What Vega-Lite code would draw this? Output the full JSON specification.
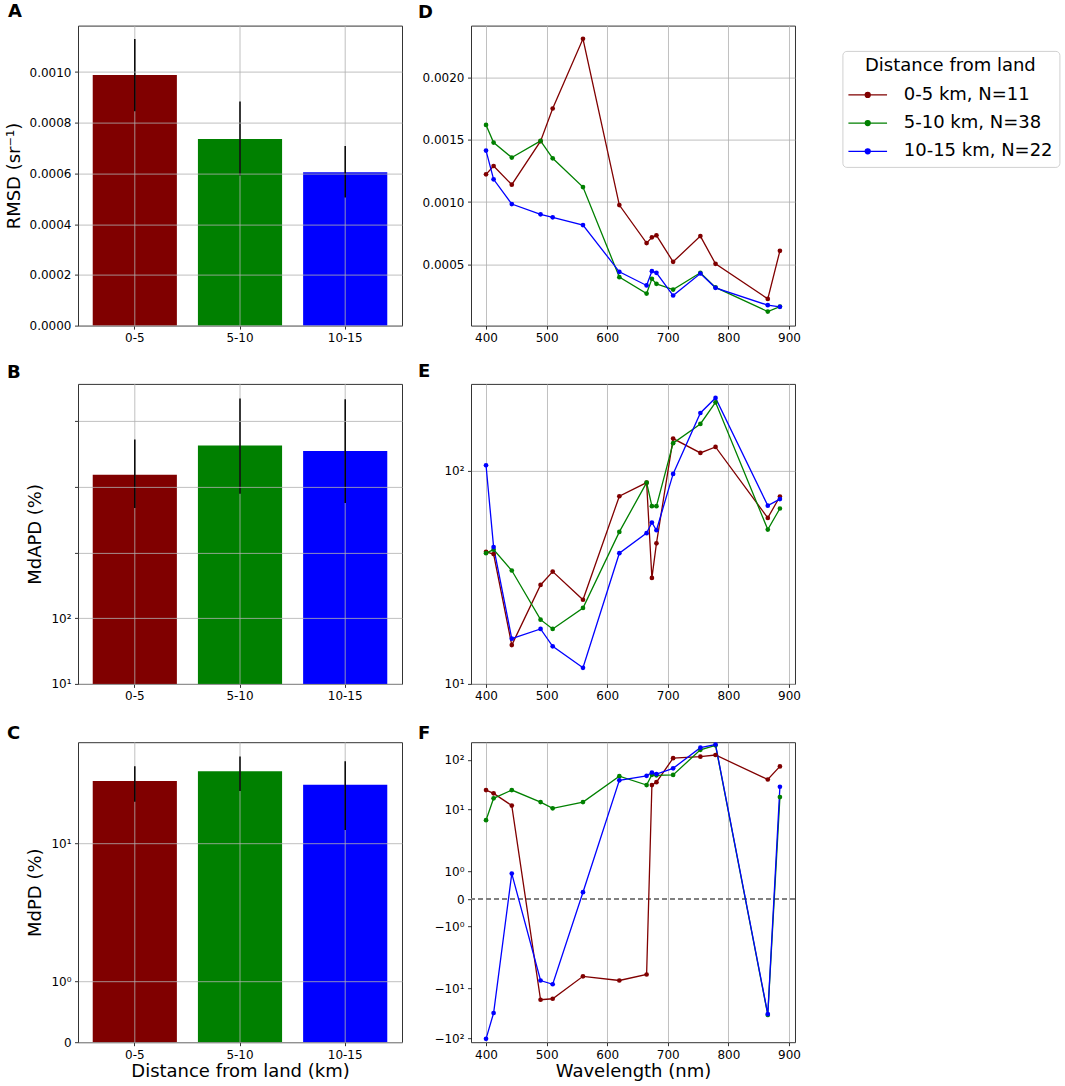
{
  "$schema": "https://vega.github.io/schema/vega-lite/v6.json",
  "background": "white",
  "padding": {"left": 4, "top": 2.6, "right": 2, "bottom": 2},
  "bounds": "flush",
  "columns": 2,
  "spacing": {"row": 58.3, "column": 69},
  "datasets": {
    "rmsd": [
      {"cat": "0-5", "val": 0.000988, "lo": 0.000845, "hi": 0.00113},
      {"cat": "5-10", "val": 0.000736, "lo": 0.000592, "hi": 0.000884},
      {"cat": "10-15", "val": 0.000605, "lo": 0.000505, "hi": 0.000708}
    ],
    "mdapd": [
      {"cat": "0-5", "val": 15240, "lo": 4750, "hi": 52000},
      {"cat": "5-10", "val": 42100, "lo": 7830, "hi": 218300},
      {"cat": "10-15", "val": 35000, "lo": 5660, "hi": 213000}
    ],
    "mdpd": [
      {"cat": "0-5", "val": 37.3, "lo": 24.5, "hi": 50.4},
      {"cat": "5-10", "val": 45.7, "lo": 30.1, "hi": 62.2},
      {"cat": "10-15", "val": 34.6, "lo": 13.5, "hi": 56.4}
    ],
    "spec": [
      {"wl": 400, "dist": "0-5 km, N=11", "rmsd": 0.001223, "mdapd": 41.6, "mdpd": 25.1},
      {"wl": 412.5, "dist": "0-5 km, N=11", "rmsd": 0.00129, "mdapd": 40.6, "mdpd": 21.3},
      {"wl": 442.5, "dist": "0-5 km, N=11", "rmsd": 0.00114, "mdapd": 15.2, "mdpd": 12.2},
      {"wl": 490, "dist": "0-5 km, N=11", "rmsd": 0.00149, "mdapd": 29.1, "mdpd": -16.9},
      {"wl": 510, "dist": "0-5 km, N=11", "rmsd": 0.001753, "mdapd": 33.6, "mdpd": -16.1},
      {"wl": 560, "dist": "0-5 km, N=11", "rmsd": 0.002314, "mdapd": 24.8, "mdpd": -5.7},
      {"wl": 620, "dist": "0-5 km, N=11", "rmsd": 0.000976, "mdapd": 75.8, "mdpd": -6.86},
      {"wl": 665, "dist": "0-5 km, N=11", "rmsd": 0.00067, "mdapd": 87.8, "mdpd": -5.2},
      {"wl": 673.75, "dist": "0-5 km, N=11", "rmsd": 0.000716, "mdapd": 31.4, "mdpd": 31.3},
      {"wl": 681.25, "dist": "0-5 km, N=11", "rmsd": 0.000732, "mdapd": 45.6, "mdpd": 36.5},
      {"wl": 708.75, "dist": "0-5 km, N=11", "rmsd": 0.000519, "mdapd": 141.3, "mdpd": 109.8},
      {"wl": 753.75, "dist": "0-5 km, N=11", "rmsd": 0.000726, "mdapd": 121, "mdpd": 118.6},
      {"wl": 778.75, "dist": "0-5 km, N=11", "rmsd": 0.000503, "mdapd": 129.1, "mdpd": 128},
      {"wl": 865, "dist": "0-5 km, N=11", "rmsd": 0.000221, "mdapd": 60, "mdpd": 41.4},
      {"wl": 885, "dist": "0-5 km, N=11", "rmsd": 0.000608, "mdapd": 75.6, "mdpd": 74.6},
      {"wl": 400, "dist": "5-10 km, N=38", "rmsd": 0.001621, "mdapd": 41, "mdpd": 6.14},
      {"wl": 412.5, "dist": "5-10 km, N=38", "rmsd": 0.001479, "mdapd": 42.6, "mdpd": 16.9},
      {"wl": 442.5, "dist": "5-10 km, N=38", "rmsd": 0.001358, "mdapd": 34, "mdpd": 25.1},
      {"wl": 490, "dist": "5-10 km, N=38", "rmsd": 0.001492, "mdapd": 20, "mdpd": 14.2},
      {"wl": 510, "dist": "5-10 km, N=38", "rmsd": 0.001352, "mdapd": 18.1, "mdpd": 10.6},
      {"wl": 560, "dist": "5-10 km, N=38", "rmsd": 0.001121, "mdapd": 22.7, "mdpd": 14.2},
      {"wl": 620, "dist": "5-10 km, N=38", "rmsd": 0.000396, "mdapd": 51.6, "mdpd": 47.5},
      {"wl": 665, "dist": "5-10 km, N=38", "rmsd": 0.000264, "mdapd": 87.8, "mdpd": 31.3},
      {"wl": 673.75, "dist": "5-10 km, N=38", "rmsd": 0.000382, "mdapd": 68.1, "mdpd": 50},
      {"wl": 681.25, "dist": "5-10 km, N=38", "rmsd": 0.000342, "mdapd": 68.1, "mdpd": 49},
      {"wl": 708.75, "dist": "5-10 km, N=38", "rmsd": 0.000296, "mdapd": 134.4, "mdpd": 49.8},
      {"wl": 753.75, "dist": "5-10 km, N=38", "rmsd": 0.000431, "mdapd": 165.4, "mdpd": 161.5},
      {"wl": 778.75, "dist": "5-10 km, N=38", "rmsd": 0.000313, "mdapd": 209, "mdpd": 200.9},
      {"wl": 865, "dist": "5-10 km, N=38", "rmsd": 0.000119, "mdapd": 52.9, "mdpd": -34.9},
      {"wl": 885, "dist": "5-10 km, N=38", "rmsd": 0.000159, "mdapd": 66.4, "mdpd": 17.9},
      {"wl": 400, "dist": "10-15 km, N=22", "rmsd": 0.001414, "mdapd": 105.9, "mdpd": -103.3},
      {"wl": 412.5, "dist": "10-15 km, N=22", "rmsd": 0.001183, "mdapd": 43.8, "mdpd": -31.3},
      {"wl": 442.5, "dist": "10-15 km, N=22", "rmsd": 0.000984, "mdapd": 16.3, "mdpd": 0.925},
      {"wl": 490, "dist": "10-15 km, N=22", "rmsd": 0.000901, "mdapd": 18.1, "mdpd": -6.86},
      {"wl": 510, "dist": "10-15 km, N=22", "rmsd": 0.000877, "mdapd": 15, "mdpd": -8.27},
      {"wl": 560, "dist": "10-15 km, N=22", "rmsd": 0.000815, "mdapd": 11.9, "mdpd": 0.249},
      {"wl": 620, "dist": "10-15 km, N=22", "rmsd": 0.000439, "mdapd": 41, "mdpd": 40},
      {"wl": 665, "dist": "10-15 km, N=22", "rmsd": 0.000329, "mdapd": 50.9, "mdpd": 48.2},
      {"wl": 673.75, "dist": "10-15 km, N=22", "rmsd": 0.000444, "mdapd": 57.1, "mdpd": 56.3},
      {"wl": 681.25, "dist": "10-15 km, N=22", "rmsd": 0.000431, "mdapd": 52.5, "mdpd": 52.2},
      {"wl": 708.75, "dist": "10-15 km, N=22", "rmsd": 0.000248, "mdapd": 96.5, "mdpd": 67.9},
      {"wl": 753.75, "dist": "10-15 km, N=22", "rmsd": 0.000425, "mdapd": 186.2, "mdpd": 180.6},
      {"wl": 778.75, "dist": "10-15 km, N=22", "rmsd": 0.00031, "mdapd": 219, "mdpd": 207.5},
      {"wl": 865, "dist": "10-15 km, N=22", "rmsd": 0.00017, "mdapd": 68.5, "mdpd": -33.3},
      {"wl": 885, "dist": "10-15 km, N=22", "rmsd": 0.000157, "mdapd": 73.5, "mdpd": 28.9}
    ]
  },
  "concat": [
    {
      "width": 324, "height": 300,
      "title": {"text": "A", "dx": -70, "offset": 3.8},
      "data": {"name": "rmsd"},
      "encoding": {
        "x": {"field": "cat", "type": "nominal", "sort": null, "title": null,
              "scale": {"paddingInner": 0.2, "paddingOuter": 0.14},
              "axis": {"labelAngle": 0, "grid": false}}
      },
      "layer": [
        {
          "mark": {"type": "bar"},
          "encoding": {
            "y": {"field": "val", "type": "quantitative", "title": "RMSD (sr⁻¹)",
                  "scale": {"domain": [0, 0.001183], "nice": false},
                  "axis": {"values": [0, 0.0002, 0.0004, 0.0006, 0.0008, 0.001], "format": ".4f", "zindex": 1}},
            "fill": {"field": "cat", "type": "nominal",
                     "scale": {"domain": ["0-5", "5-10", "10-15"], "range": ["#800000", "#008000", "#0000ff"]},
                     "legend": null}
          }
        },
        {"mark": {"type": "rule", "color": "#b0b0b0", "strokeWidth": 0.8}, "encoding": {}},
        {
          "mark": {"type": "rule", "color": "black", "strokeWidth": 1.5},
          "encoding": {
            "y": {"field": "lo", "type": "quantitative", "title": "RMSD (sr⁻¹)"},
            "y2": {"field": "hi"}
          }
        }
      ]
    },
    {
      "width": 324, "height": 300,
      "title": {"text": "D", "dx": -53, "offset": 3.8},
      "data": {"name": "spec"},
      "mark": {"type": "line", "strokeWidth": 1.3, "point": {"filled": true, "size": 22}},
      "encoding": {
        "x": {"field": "wl", "type": "quantitative", "title": null,
              "scale": {"domain": [375.2, 909.9], "nice": false, "zero": false},
              "axis": {"values": [400, 500, 600, 700, 800, 900], "format": "d"}},
        "y": {"field": "rmsd", "type": "quantitative", "title": null,
              "scale": {"domain": [0.000006, 0.00242], "nice": false, "zero": false},
              "axis": {"values": [0.0005, 0.001, 0.0015, 0.002], "format": ".4f"}},
        "color": {"field": "dist", "type": "nominal", "sort": null,
                  "scale": {"domain": ["0-5 km, N=11", "5-10 km, N=38", "10-15 km, N=22"], "range": ["#800000", "#008000", "#0000ff"]},
                  "legend": {"title": "Distance from land"}}
      }
    },
    {
      "width": 324, "height": 300,
      "title": {"text": "B", "dx": -71, "offset": 1.4},
      "data": {"name": "mdapd"},
      "encoding": {
        "x": {"field": "cat", "type": "nominal", "sort": null, "title": null,
              "scale": {"paddingInner": 0.2, "paddingOuter": 0.14},
              "axis": {"labelAngle": 0, "grid": false}}
      },
      "layer": [
        {
          "mark": {"type": "bar"},
          "encoding": {
            "y": {"field": "val", "type": "quantitative", "title": "MdAPD (%)",
                  "scale": {"type": "log", "domain": [10, 365600], "nice": false},
                  "axis": {"values": [10, 100, 1000, 10000, 100000], "labelExpr": "datum.value == 10 ? '10¹' : datum.value == 100 ? '10²' : ''", "zindex": 1}},
            "y2": {"datum": 10},
            "fill": {"field": "cat", "type": "nominal",
                     "scale": {"domain": ["0-5", "5-10", "10-15"], "range": ["#800000", "#008000", "#0000ff"]},
                     "legend": null}
          }
        },
        {"mark": {"type": "rule", "color": "#b0b0b0", "strokeWidth": 0.8}, "encoding": {}},
        {
          "mark": {"type": "rule", "color": "black", "strokeWidth": 1.5},
          "encoding": {
            "y": {"field": "lo", "type": "quantitative", "title": "MdAPD (%)"},
            "y2": {"field": "hi"}
          }
        }
      ]
    },
    {
      "width": 324, "height": 300,
      "title": {"text": "E", "dx": -53, "offset": 3.0},
      "data": {"name": "spec"},
      "mark": {"type": "line", "strokeWidth": 1.3, "point": {"filled": true, "size": 22}},
      "encoding": {
        "x": {"field": "wl", "type": "quantitative", "title": null,
              "scale": {"domain": [375.2, 909.9], "nice": false, "zero": false},
              "axis": {"values": [400, 500, 600, 700, 800, 900], "format": "d"}},
        "y": {"field": "mdapd", "type": "quantitative", "title": null,
              "scale": {"type": "log", "domain": [10, 254.9], "nice": false},
              "axis": {"values": [10, 100], "labelExpr": "datum.value == 10 ? '10¹' : '10²'"}},
        "color": {"field": "dist", "type": "nominal", "sort": null,
                  "scale": {"domain": ["0-5 km, N=11", "5-10 km, N=38", "10-15 km, N=22"], "range": ["#800000", "#008000", "#0000ff"]},
                  "legend": {"title": "Distance from land"}}
      }
    },
    {
      "width": 324, "height": 300,
      "title": {"text": "C", "dx": -71, "offset": -1.3},
      "data": {"name": "mdpd"},
      "encoding": {
        "x": {"field": "cat", "type": "nominal", "sort": null, "title": "Distance from land (km)",
              "scale": {"paddingInner": 0.2, "paddingOuter": 0.14},
              "axis": {"labelAngle": 0, "grid": false, "titlePadding": 2}}
      },
      "layer": [
        {
          "mark": {"type": "bar"},
          "encoding": {
            "y": {"field": "val", "type": "quantitative", "title": "MdPD (%)",
                  "scale": {"zero": false, "nice": false,
                            "domain": [0, 1, 2, 3, 5, 7, 10, 15, 20, 30, 40, 50, 60, 83.5],
                            "range": [300, 239, 178, 158.7, 134.3, 118.3, 101.3, 81.9, 68.2, 48.9, 35.1, 24.5, 15.8, 0]},
                  "axis": {"values": [0, 1, 10], "labelExpr": "datum.value == 0 ? '0' : datum.value == 1 ? '10⁰' : '10¹'", "zindex": 1}},
            "y2": {"datum": 0},
            "fill": {"field": "cat", "type": "nominal",
                     "scale": {"domain": ["0-5", "5-10", "10-15"], "range": ["#800000", "#008000", "#0000ff"]},
                     "legend": null}
          }
        },
        {"mark": {"type": "rule", "color": "#b0b0b0", "strokeWidth": 0.8}, "encoding": {}},
        {
          "mark": {"type": "rule", "color": "black", "strokeWidth": 1.5},
          "encoding": {
            "y": {"field": "lo", "type": "quantitative", "title": "MdPD (%)"},
            "y2": {"field": "hi"}
          }
        }
      ]
    },
    {
      "width": 324, "height": 300,
      "title": {"text": "F", "dx": -53, "offset": -1.3},
      "data": {"name": "spec"},
      "layer": [
        {
          "mark": {"type": "rule", "color": "#808080", "strokeWidth": 1.2, "strokeDash": [5, 3]},
          "encoding": {"y": {"datum": 0, "type": "quantitative"}}
        },
        {
          "mark": {"type": "line", "strokeWidth": 1.3, "point": {"filled": true, "size": 22}},
          "encoding": {
            "x": {"field": "wl", "type": "quantitative", "title": "Wavelength (nm)",
                  "scale": {"domain": [375.2, 909.9], "nice": false, "zero": false},
                  "axis": {"values": [400, 500, 600, 700, 800, 900], "format": "d", "titlePadding": 2}},
            "y": {"field": "mdpd", "type": "quantitative", "title": null,
                  "scale": {"zero": false, "nice": false,
                            "domain": [-120.5, -100, -70, -50, -30, -20, -15, -10, -7, -5, -3, -2, -1, 0, 1, 2, 3, 5, 7, 10, 15, 20, 30, 50, 70, 100, 150, 227.8],
                            "range": [300, 296, 288.33, 281.1, 270.11, 261.39, 255.2, 246.48, 238.81, 231.58, 220.59, 211.87, 184.36, 156.85, 129.34, 101.83, 93.11, 82.12, 74.89, 67.22, 58.5, 52.31, 43.59, 32.6, 25.37, 17.7, 8.98, 0]},
                  "axis": {"values": [-100, -10, -1, 0, 1, 10, 100],
                           "labelExpr": "datum.value == 100 ? '10²' : datum.value == 10 ? '10¹' : datum.value == 1 ? '10⁰' : datum.value == 0 ? '0' : datum.value == -1 ? '−10⁰' : datum.value == -10 ? '−10¹' : '−10²'"}},
            "color": {"field": "dist", "type": "nominal", "sort": null,
                      "scale": {"domain": ["0-5 km, N=11", "5-10 km, N=38", "10-15 km, N=22"], "range": ["#800000", "#008000", "#0000ff"]},
                      "legend": {"title": "Distance from land"}}
          }
        }
      ]
    }
  ],
  "resolve": {"scale": {"color": "shared"}, "legend": {"color": "shared"}},
  "config": {
    "font": "DejaVu Sans",
    "view": {"stroke": "#333333", "strokeWidth": 1},
    "title": {"fontSize": 18, "fontWeight": "bold", "font": "DejaVu Sans", "anchor": "start", "frame": "group", "baseline": "alphabetic", "color": "#000000"},
    "axis": {
      "labelFont": "DejaVu Sans", "labelFontSize": 12, "labelColor": "#000000",
      "titleFont": "DejaVu Sans", "titleFontSize": 18, "titleFontWeight": "normal", "titleColor": "#000000",
      "tickColor": "#000000", "tickSize": 3.5, "tickWidth": 0.8, "domain": false,
      "gridColor": "#b0b0b0", "gridWidth": 0.8, "labelPadding": 3.5, "titlePadding": 6,
      "labelFlush": false, "labelOverlap": false
    },
    "legend": {
      "orient": "none", "legendX": 764.4, "legendY": 25.3,
      "symbolType": "M-1.05,0L1.75,0M0.17,0A0.18,0.18,0,1,1,0.53,0A0.18,0.18,0,1,1,0.17,0M0.25,0A0.1,0.1,0,1,1,0.45,0A0.1,0.1,0,1,1,0.25,0M0.32,0A0.03,0.03,0,1,1,0.38,0A0.03,0.03,0,1,1,0.32,0",
      "titleFont": "DejaVu Sans", "titleFontSize": 18, "titleFontWeight": "normal", "titleColor": "#000000",
      "labelFont": "DejaVu Sans", "labelFontSize": 18, "labelColor": "#000000",
      "symbolSize": 762, "symbolStrokeWidth": 1.3, "labelOffset": 26.4, "rowPadding": 4.2,
      "padding": 6, "strokeColor": "#d0d0d0", "fillColor": "white", "cornerRadius": 4,
      "titleAnchor": "middle", "titlePadding": 5.5
    }
  }
}
